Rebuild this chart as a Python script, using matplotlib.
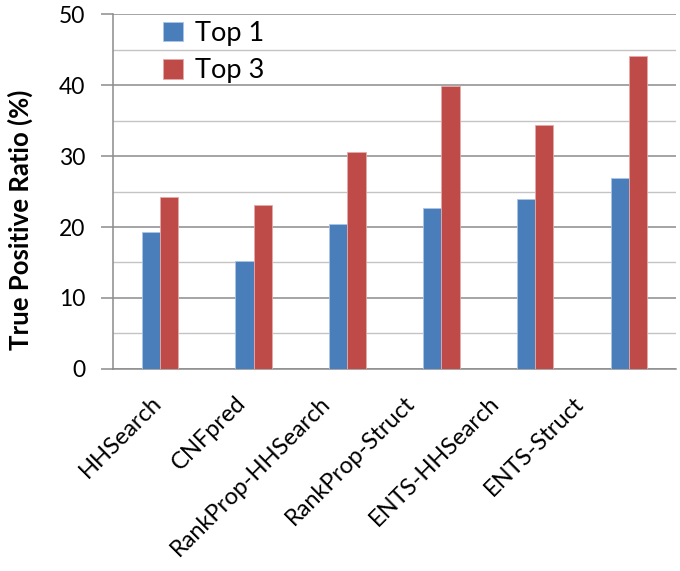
import numpy as np
import matplotlib.pyplot as plt
from matplotlib.ticker import MultipleLocator

# ── data ─────────────────────────────────────────────
methods = ['HHSearch', 'CNFpred', 'RankProp-HHSearch', 'RankProp-Struct',
           'ENTS-HHSearch', 'ENTS-Struct']
top1 = [19.3, 15.2, 20.4, 22.7, 23.9, 26.9]
top3 = [24.2, 23.1, 30.6, 39.9, 34.4, 44.1]
series_names = ['Top 1', 'Top 3']

plt.rcParams['font.family'] = ['Lato', 'DejaVu Sans']

fig = plt.figure(figsize=(6.8, 5.71), dpi=100)
ax = fig.add_axes([0.166, 0.354, 0.828, 0.621])

x = np.arange(len(methods))
w = 0.195
ax.bar(x - w/2, top1, w, color='#4a7ebb', edgecolor='#a9c4e6', linewidth=0.6,
       label=series_names[0], zorder=3)
ax.bar(x + w/2, top3, w, color='#be4b48', edgecolor='#e6a9a7', linewidth=0.6,
       label=series_names[1], zorder=3)

ax.set_xlim(-0.5, len(methods) - 0.5)
ax.set_ylim(0, 50)
ax.yaxis.set_major_locator(MultipleLocator(10))
ax.yaxis.set_minor_locator(MultipleLocator(5))
ax.grid(axis='y', which='major', color='#8c8c8c', linewidth=1.1, zorder=0)
ax.grid(axis='y', which='minor', color='#c4c4c4', linewidth=1.0, zorder=0)
ax.tick_params(axis='y', which='major', length=9, width=1.1, color='#8c8c8c',
               labelsize=16.5, pad=11)
ax.tick_params(axis='y', which='minor', length=0)
ax.tick_params(axis='x', length=0, pad=17)

for s in ['top', 'right']:
    ax.spines[s].set_visible(False)
for s in ['left', 'bottom']:
    ax.spines[s].set_color('#8c8c8c')
    ax.spines[s].set_linewidth(1.1)

# labels in the original sit a little tighter than the bar groups
ax.set_xticks(x * 0.9 - 0.1)
ax.set_xticklabels(methods, rotation=45, ha='right', rotation_mode='anchor',
                   fontsize=17)
ax.set_ylabel('True Positive Ratio (%)', fontsize=18.5, fontweight='bold')
ax.yaxis.set_label_coords(-0.142, 0.42)

ax.legend(loc='upper left', bbox_to_anchor=(0.045, 1.05), frameon=False,
          fontsize=19.5, handlelength=0.75, handleheight=0.75, handletextpad=0.45,
          labelspacing=0.45)

fig.savefig('out.png', dpi=100)
